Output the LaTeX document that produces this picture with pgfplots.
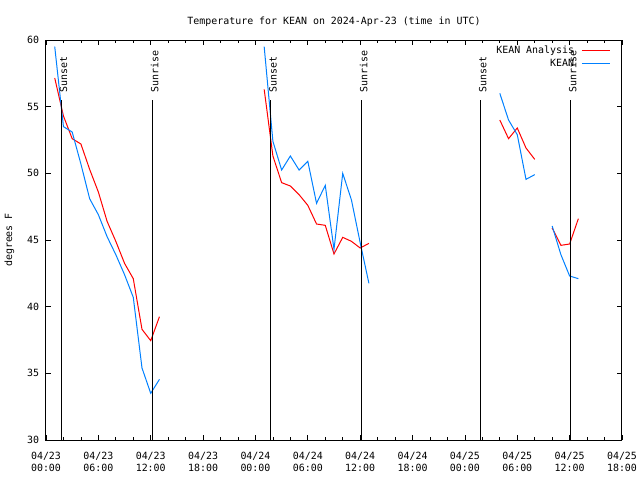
\documentclass[border=0pt]{standalone}
\usepackage{fontspec}
\setmainfont{DejaVu Sans Mono}
\usepackage{pgfplots}
\pgfplotsset{compat=1.18}
\definecolor{kred}{RGB}{255,0,0}
\definecolor{kblue}{RGB}{0,128,255}
\newcommand{\gf}{\fontsize{7.45}{9}\selectfont}

\begin{document}
\begin{tikzpicture}
\useasboundingbox (-34.5pt,-30pt) rectangle (445.5pt,330pt);
\begin{axis}[
  scale only axis, width=432pt, height=300pt,
  at={(0,0)}, anchor=south west,
  xmin=0, xmax=66, ymin=30, ymax=60,
  xtick={0,6,...,66},
  xticklabels={04/23\\00:00,04/23\\06:00,04/23\\12:00,04/23\\18:00,04/24\\00:00,04/24\\06:00,04/24\\12:00,04/24\\18:00,04/25\\00:00,04/25\\06:00,04/25\\12:00,04/25\\18:00},
  minor x tick num=2,
  ytick={30,35,...,60},
  tick align=inside, tick pos=both, ticklabel pos=left,
  major tick length=3.4pt, minor tick length=2pt,
  every tick/.style={black, line width=0.6pt},
  axis line style={line width=0.75pt},
  xticklabel style={font=\gf, align=center, inner sep=0pt, yshift=-9pt},
  yticklabel style={font=\gf, inner sep=0pt, xshift=-5pt},
  /pgf/number format/assume math mode=true,
  unbounded coords=jump,
  legend style={draw=none, fill=none, at={(rel axis cs:1,1)}, anchor=north east,
    xshift=-8.6pt, yshift=-3pt, font=\gf, row sep=0pt, column sep=4pt, inner sep=0pt,
    nodes={inner sep=1.4pt, text height=5.4pt, text depth=1.6pt}},
  legend cell align=right, legend plot pos=right,
  legend image code/.code={\draw[#1] (0pt,0pt) -- (21pt,0pt);},
]
\addplot[kred, line width=0.75pt] table[x=h, y=t] {
h t
1 57.15
2 54.3
3 52.6
4 52.2
5 50.3
6 48.6
7 46.4
8 44.9
9 43.25
10 42.1
11 38.3
12 37.45
13 39.25
19 nan
25 56.3
26 51.3
27 49.3
28 49.05
29 48.4
30 47.6
31 46.2
32 46.1
33 43.95
34 45.2
35 44.9
36 44.4
37 44.75
45 nan
52 54.0
53 52.6
54 53.4
55 51.9
56 51.05
57 nan
58 45.9
59 44.6
60 44.7
61 46.6
};
\addlegendentry{KEAN Analysis}
\addplot[kblue, line width=0.75pt] table[x=h, y=t] {
h t
1 59.5
2 53.5
3 53.1
4 50.7
5 48.1
6 46.9
7 45.25
8 43.9
9 42.4
10 40.7
11 35.4
12 33.5
13 34.55
19 nan
25 59.5
26 52.4
27 50.25
28 51.3
29 50.25
30 50.9
31 47.75
32 49.1
33 44.3
34 50.0
35 48.0
36 44.8
37 41.75
45 nan
52 56.0
53 54.0
54 52.9
55 49.55
56 49.9
57 nan
58 46.05
59 43.9
60 42.3
61 42.1
};
\addlegendentry{KEAN}
\draw[black, line width=1pt] (axis cs:1.75,30) -- (axis cs:1.75,55.5);
\draw[black, line width=1pt] (axis cs:12.2,30) -- (axis cs:12.2,55.5);
\draw[black, line width=1pt] (axis cs:25.75,30) -- (axis cs:25.75,55.5);
\draw[black, line width=1pt] (axis cs:36.15,30) -- (axis cs:36.15,55.5);
\draw[black, line width=1pt] (axis cs:49.8,30) -- (axis cs:49.8,55.5);
\draw[black, line width=1pt] (axis cs:60.1,30) -- (axis cs:60.1,55.5);
\node[rotate=90, anchor=west, inner sep=0pt, font=\gf] at (axis cs:2.0,56.05) {Sunset};
\node[rotate=90, anchor=west, inner sep=0pt, font=\gf] at (axis cs:12.45,56.05) {Sunrise};
\node[rotate=90, anchor=west, inner sep=0pt, font=\gf] at (axis cs:26.0,56.05) {Sunset};
\node[rotate=90, anchor=west, inner sep=0pt, font=\gf] at (axis cs:36.4,56.05) {Sunrise};
\node[rotate=90, anchor=west, inner sep=0pt, font=\gf] at (axis cs:50.05,56.05) {Sunset};
\node[rotate=90, anchor=west, inner sep=0pt, font=\gf] at (axis cs:60.35,56.05) {Sunrise};
\end{axis}
\node[font=\gf, anchor=base] at (216pt,312pt) {Temperature for KEAN on 2024-Apr-23 (time in UTC)};
\node[font=\gf, rotate=90] at (-27.4pt,150pt) {degrees F};
\end{tikzpicture}
\end{document}
